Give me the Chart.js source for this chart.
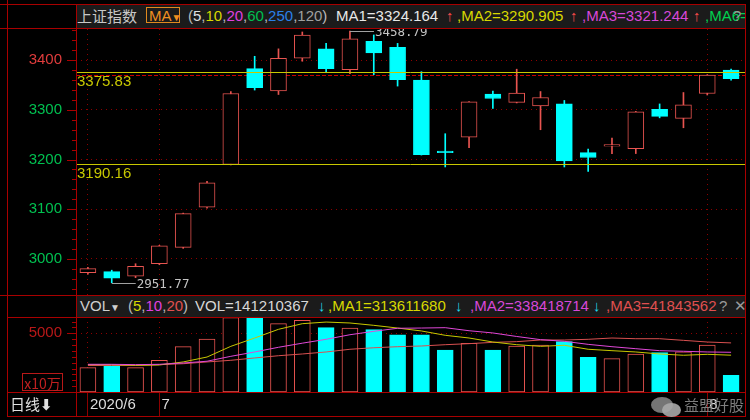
<!DOCTYPE html>
<html lang="zh">
<head>
<meta charset="utf-8">
<title>上证指数 日线</title>
<script src="https://cdn.jsdelivr.net/npm/chart.js@4.4.0/dist/chart.umd.min.js"></script>
<style>
  html, body { margin: 0; padding: 0; background: #000; }
  #stage {
    position: relative; width: 750px; height: 420px; overflow: hidden; background: #000;
    font-family: "Liberation Sans", Arial, "Noto Sans CJK SC", sans-serif; font-size: 15px;
  }
  .hline { position: absolute; height: 1px; background: #a80000; }
  .vline { position: absolute; width: 1px; background: #a80000; }
  .bar { position: absolute; background: #1b1b1b; overflow: hidden; }
  .t { position: absolute; white-space: nowrap; line-height: 20px; }
  .cjk { font-family: "Noto Sans CJK SC", sans-serif; }
  .wrap { position: absolute; }
</style>
</head>
<body>
<div id="stage">
  <div class="wrap" style="left:0;top:29px;width:750px;height:266px"><canvas id="price" width="750" height="266"></canvas></div>
  <div class="wrap" style="left:0;top:317px;width:750px;height:99px"><canvas id="vol" width="750" height="99"></canvas></div>

  <!-- header bars -->
  <div class="bar" style="left:77px;top:5px;width:668px;height:23px">
    <span class="t cjk" style="left:0;top:1px;color:#c8c8c8">上证指数</span>
    <span class="t" style="left:69px;top:2px;width:34px;height:16px;line-height:16px;border:1px solid #e08a1e;color:#f09020;padding-left:2px;box-sizing:border-box">MA<span style="font-size:10px">▼</span></span>
    <span class="t" style="left:111px;top:1px;color:#bbb">(<span style="color:#e0e0e0">5</span>,<span style="color:#d8d800">10</span>,<span style="color:#e040e0">20</span>,<span style="color:#00c050">60</span>,<span style="color:#2a80e8">250</span>,<span style="color:#a0a0a0">120</span>)</span>
    <span class="t" style="left:259px;top:1px;color:#e8e8e8">MA1=3324.164</span>
    <span class="t" style="left:369px;top:1px;color:#ff4a4a">↑</span>
    <span class="t" style="left:380px;top:1px;color:#d8d800">,MA2=3290.905</span>
    <span class="t" style="left:493px;top:1px;color:#ff4a4a">↑</span>
    <span class="t" style="left:505px;top:1px;color:#d848d8">,MA3=3321.244</span>
    <span class="t" style="left:616px;top:1px;color:#ff4a4a">↑</span>
    <span class="t" style="left:628px;top:1px;color:#00d050">,MA6=3</span>
    <span class="t" style="left:656px;top:1px;color:#9a9a9a">?</span>
  </div>
  <div class="bar" style="left:77px;top:296px;width:668px;height:21px">
    <span class="t" style="left:3px;top:0;color:#d0d0d0">VOL<span style="font-size:10px">▼</span></span>
    <span class="t" style="left:51px;top:0;color:#bbb">(<span style="color:#d8d800">5</span>,<span style="color:#e040e0">10</span>,<span style="color:#e05050">20</span>)</span>
    <span class="t" style="left:118px;top:0;color:#d8d8d8">VOL=141210367</span>
    <span class="t" style="left:241px;top:0;color:#20d8e8">↓</span>
    <span class="t" style="left:251px;top:0;color:#d8d800">,MA1=313611680</span>
    <span class="t" style="left:378px;top:0;color:#20d8e8">↓</span>
    <span class="t" style="left:393px;top:0;color:#d848d8">,MA2=338418714</span>
    <span class="t" style="left:516px;top:0;color:#20d8e8">↓</span>
    <span class="t" style="left:529px;top:0;color:#e05050;width:111px;overflow:hidden">,MA3=418435620</span>
    <span class="t" style="left:642px;top:0;color:#9a9a9a">?</span>
    <span class="t" style="left:657px;top:0;color:#9a9a9a">✕</span>
  </div>

  <!-- frame -->
  <div class="hline" style="left:0;top:4px;width:746px"></div>
  <div class="hline" style="left:0;top:28px;width:746px"></div>
  <div class="hline" style="left:0;top:295px;width:746px"></div>
  <div class="hline" style="left:7px;top:317px;width:739px"></div>
  <div class="hline" style="left:7px;top:392px;width:739px"></div>
  <div class="hline" style="left:7px;top:416px;width:739px"></div>
  <div class="vline" style="left:7px;top:0;height:417px"></div>
  <div class="vline" style="left:76px;top:4px;height:413px"></div>
  <div class="vline" style="left:745px;top:4px;height:413px"></div>

  <!-- left labels -->
  <div class="t cjk" style="left:22px;top:373px;width:41px;height:18px;line-height:18px;border:1px solid #b81818;color:#c02020;font-size:14px;box-sizing:border-box;text-align:center">x10万</div>
  <div class="t cjk" style="left:10px;top:394px;color:#e0e0e0">日线<b style="font-family:'DejaVu Sans'">⬇</b></div>

  <!-- watermark -->
  <div style="position:absolute;left:651px;top:397px;width:22px;height:16px;border-radius:50%;background:#8a8a8a;opacity:.85"></div>
  <div style="position:absolute;left:662px;top:403px;width:19px;height:14px;border-radius:50%;background:#a8a8a8;opacity:.9"></div>
  <div class="t cjk" style="left:684px;top:395px;color:#8c8c8c;opacity:.9">益盟好股</div>
</div>

<script>
// Daily candles, Shanghai Composite, 2020/6/24 – 2020/8/4
const dates = [
  "2020/6/24", "2020/6/29", "2020/6/30", "2020/7/1", "2020/7/2", "2020/7/3", "2020/7/6",
  "2020/7/7", "2020/7/8", "2020/7/9", "2020/7/10", "2020/7/13", "2020/7/14", "2020/7/15",
  "2020/7/16", "2020/7/17", "2020/7/20", "2020/7/21", "2020/7/22", "2020/7/23", "2020/7/24",
  "2020/7/27", "2020/7/28", "2020/7/29", "2020/7/30", "2020/7/31", "2020/8/3", "2020/8/4",
];
const opens = [2972, 2974, 2965, 2990, 3023, 3104, 3190, 3383, 3338, 3404, 3423, 3381, 3438, 3426,
  3360, 3217, 3245, 3332, 3315, 3308, 3312, 3214, 3227, 3222, 3301, 3283, 3333, 3380];
const highs = [2983, 2977, 2990, 3027, 3092, 3156, 3337, 3408, 3423, 3457, 3434, 3458.79, 3451, 3434,
  3377, 3252, 3317, 3338, 3382, 3337, 3319, 3221, 3243, 3297, 3312, 3335, 3371, 3382];
const lows = [2969, 2951.77, 2962, 2988, 3021, 3102, 3189, 3340, 3331, 3398, 3377, 3373, 3371, 3348,
  3209, 3185, 3224, 3303, 3314, 3260, 3185, 3176, 3212, 3212, 3284, 3264, 3330, 3360];
const closes = [2980, 2961, 2985, 3026, 3091, 3153, 3333, 3345, 3404, 3451, 3383, 3443, 3415, 3361,
  3210, 3214, 3316, 3323, 3334, 3325, 3197, 3204, 3230, 3296, 3287, 3310, 3370, 3363];

// volume in units of 10万
const volumes = [2070, 2215, 2070, 2700, 3860, 4515, 6330, 6400, 5820, 6110, 5480, 5450, 5310, 4880,
  4880, 3580, 4150, 3580, 3920, 4000, 4290, 2960, 2840, 3240, 3350, 3430, 4000, 1412];
const volMa5 = [2330, 2330, 2270, 2300, 2560, 2980, 3890, 4600, 5340, 5820, 5960, 5880, 5680, 5450,
  5200, 4830, 4600, 4260, 4030, 3890, 3980, 3640, 3520, 3410, 3240, 3130, 3210, 3136];
const volMa10 = [2360, 2360, 2330, 2360, 2470, 2620, 3040, 3410, 3810, 4160, 4490, 4880, 5170, 5430,
  5450, 5480, 5220, 5030, 4730, 4460, 4320, 4060, 3860, 3690, 3520, 3470, 3410, 3384];
const volMa20 = [2260, 2260, 2270, 2340, 2410, 2560, 2700, 2900, 3090, 3240, 3410, 3640, 3770, 3860,
  3920, 4030, 4120, 4230, 4290, 4430, 4430, 4490, 4600, 4540, 4540, 4400, 4260, 4184];

const priceTicks = [3000, 3100, 3200, 3300, 3400];
const volTicks = [5000];
const levels = [3375.83, 3190.16]; // drawn support / resistance lines
const prevClose = 3370;

const RED = "#e85450";
const CYAN = "#00ffff";
const FRAME = "#a80000";
const GRID = "#8c0000";
const LEVEL = "#c8c800";

const isUp = closes.map((c, i) => c >= opens[i]);
const candleColor = isUp.map((u) => (u ? RED : CYAN));
const bodyFill = isUp.map((u) => (u ? "#000" : CYAN));

// first trading day of each month gets a separator line and a date label
const monthStarts = dates
  .map((d, i) => (i === 0 || d.split("/")[1] !== dates[i - 1].split("/")[1] ? i : -1))
  .filter((i) => i >= 0);

function dateLabel(i) {
  const [y, m] = dates[i].split("/");
  return i === 0 ? `${y}/${m}` : m;
}

function flatScale(s) {
  s.paddingLeft = 0;
  s.paddingRight = 0;
  s.paddingTop = 0;
  s.paddingBottom = 0;
}

/** Short/long tick marks to the left of the plot, like the terminal's axis ruler. */
function rulerPlugin(step, major) {
  return {
    id: "ruler",
    afterDraw(chart) {
      const s = chart.scales.y;
      const ctx = chart.ctx;
      ctx.save();
      ctx.strokeStyle = FRAME;
      ctx.lineWidth = 1;
      for (let v = Math.ceil(s.min / step) * step; v <= s.max; v += step) {
        const y = Math.round(s.getPixelForValue(v)) + 0.5;
        const len = v % major === 0 ? 9 : 4;
        ctx.beginPath();
        ctx.moveTo(s.right - len, y);
        ctx.lineTo(s.right, y);
        ctx.stroke();
      }
      ctx.restore();
    },
  };
}

const priceOverlay = {
  id: "priceOverlay",
  beforeDatasetsDraw(chart) {
    const { ctx, chartArea: a, scales } = chart;
    const y = Math.round(scales.y.getPixelForValue(prevClose)) + 0.5;
    ctx.save();
    ctx.strokeStyle = "#c80000";
    ctx.setLineDash([4, 2]);
    ctx.beginPath();
    ctx.moveTo(a.left, y);
    ctx.lineTo(a.right + 2, y);
    ctx.stroke();
    ctx.restore();
  },
  afterDatasetsDraw(chart) {
    const { ctx, chartArea: a, scales } = chart;
    ctx.save();
    // support / resistance
    ctx.strokeStyle = LEVEL;
    ctx.fillStyle = LEVEL;
    ctx.lineWidth = 1;
    ctx.font = '15px "Liberation Sans", Arial, sans-serif';
    ctx.textBaseline = "top";
    levels.forEach((lv) => {
      const y = Math.round(scales.y.getPixelForValue(lv)) + 0.5;
      ctx.beginPath();
      ctx.moveTo(a.left, y);
      ctx.lineTo(a.right + 2, y);
      ctx.stroke();
      ctx.fillText(lv.toFixed(2), a.left + 1, y + 2);
    });
    // highest high / lowest low markers
    const hi = highs.indexOf(Math.max(...highs));
    const lo = lows.indexOf(Math.min(...lows));
    ctx.font = '12.5px "DejaVu Sans Mono", monospace';
    ctx.textBaseline = "middle";
    [
      [hi, highs[hi]],
      [lo, lows[lo]],
    ].forEach(([i, v]) => {
      const x = scales.x.getPixelForValue(i);
      const y = Math.round(scales.y.getPixelForValue(v)) + 0.5;
      ctx.strokeStyle = "#a0a0a0";
      ctx.beginPath();
      ctx.moveTo(x, y);
      ctx.lineTo(x + 24, y);
      ctx.stroke();
      ctx.fillStyle = "#c4c4c4";
      ctx.fillText(v.toFixed(2), x + 25, y + 1);
    });
    ctx.restore();
  },
};

const common = {
  responsive: false,
  animation: false,
  devicePixelRatio: 1,
  events: [],
  layout: { padding: { left: 7, right: 7, top: 0, bottom: 0 } },
  plugins: { legend: { display: false }, tooltip: { enabled: false } },
};

new Chart(document.getElementById("price"), {
  type: "bar",
  data: {
    labels: dates,
    datasets: [
      {
        label: "body",
        data: opens.map((o, i) => [o, closes[i]]),
        backgroundColor: bodyFill,
        borderColor: candleColor,
        borderWidth: 1,
        borderSkipped: false,
        barThickness: 16,
        grouped: false,
        order: 1,
      },
      {
        label: "wick",
        data: lows.map((l, i) => [l, highs[i]]),
        backgroundColor: candleColor,
        borderWidth: 0,
        barThickness: 1,
        grouped: false,
        order: 2,
      },
    ],
  },
  options: {
    ...common,
    scales: {
      x: {
        offset: true,
        ticks: { display: false },
        grid: {
          offset: false,
          drawTicks: false,
          color: (c) => (monthStarts.includes(c.index) ? GRID : "transparent"),
        },
        border: { display: false, dash: [1, 4] },
        afterFit: (s) => {
          s.height = 0;
          flatScale(s);
        },
      },
      y: {
        min: 2927,
        max: 3463,
        afterBuildTicks: (s) => {
          s.ticks = priceTicks.map((v) => ({ value: v }));
        },
        ticks: {
          padding: 14,
          font: { family: '"Liberation Sans", Arial, sans-serif', size: 15 },
          color: (c) => (c.tick.value > prevClose ? "#e03c3c" : "#00c050"),
          callback: (v) => String(v),
        },
        grid: { drawTicks: false, color: GRID },
        border: { display: false, dash: [1, 4] },
        afterFit: (s) => {
          s.width = 69;
          flatScale(s);
        },
      },
    },
  },
  plugins: [priceOverlay, rulerPlugin(20, 100)],
});

new Chart(document.getElementById("vol"), {
  type: "bar",
  data: {
    labels: dates,
    datasets: [
      {
        type: "line",
        label: "MA20",
        data: volMa20,
        borderColor: "#d85050",
        borderWidth: 1,
        pointRadius: 0,
        order: 3,
      },
      {
        type: "line",
        label: "MA5",
        data: volMa5,
        borderColor: "#c8c800",
        borderWidth: 1,
        pointRadius: 0,
        order: 2,
      },
      {
        type: "line",
        label: "MA10",
        data: volMa10,
        borderColor: "#e048d8",
        borderWidth: 1,
        pointRadius: 0,
        order: 1,
      },
      {
        label: "VOL",
        data: volumes,
        backgroundColor: bodyFill,
        borderColor: candleColor,
        borderWidth: 1,
        borderSkipped: false,
        barThickness: 16,
        order: 4,
      },
    ],
  },
  options: {
    ...common,
    scales: {
      x: {
        offset: true,
        ticks: {
          autoSkip: false,
          maxRotation: 0,
          minRotation: 0,
          align: "start",
          labelOffset: 2,
          padding: -20,
          color: "#dcdcdc",
          font: { family: '"Liberation Sans", Arial, sans-serif', size: 15 },
          callback: (v, i) => (monthStarts.includes(i) ? dateLabel(i) : ""),
        },
        grid: {
          offset: false,
          tickLength: 24,
          color: (c) => (monthStarts.includes(c.index) ? GRID : "transparent"),
          tickColor: (c) => (monthStarts.includes(c.index) ? GRID : "transparent"),
        },
        border: { display: false, dash: [1, 4] },
        afterFit: (s) => {
          s.height = 24;
          flatScale(s);
        },
      },
      y: {
        min: 0,
        max: 6390,
        afterBuildTicks: (s) => {
          s.ticks = volTicks.map((v) => ({ value: v }));
        },
        ticks: {
          padding: 14,
          color: "#b81818",
          font: { family: '"Liberation Sans", Arial, sans-serif', size: 15 },
          callback: (v) => String(v),
        },
        grid: { drawTicks: false, color: GRID },
        border: { display: false, dash: [1, 4] },
        afterFit: (s) => {
          s.width = 69;
          flatScale(s);
        },
      },
    },
  },
  plugins: [rulerPlugin(500, 5000)],
});
</script>
</body>
</html>
